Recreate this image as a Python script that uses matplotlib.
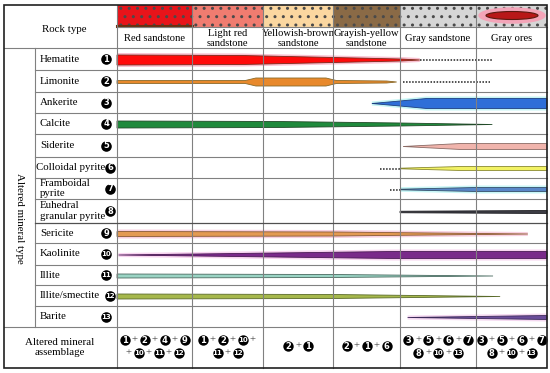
import numpy as np
import matplotlib.pyplot as plt
from matplotlib.patches import Rectangle, Ellipse, Polygon

plt.rcParams['font.family'] = ['Liberation Serif', 'DejaVu Serif']

# ---- data ----
rock_types = ['Red sandstone', 'Light red\nsandstone', 'Yellowish-brown\nsandstone',
              'Grayish-yellow\nsandstone', 'Gray sandstone', 'Gray ores']
rock_colors = ['#e8141a', '#f07c70', '#fbd7a0', '#8a6a46', '#d6d6d6', '#d6d6d6']

minerals = ['Hematite', 'Limonite', 'Ankerite', 'Calcite', 'Siderite', 'Colloidal pyrite',
            'Framboidal\npyrite', 'Euhedral\ngranular pyrite', 'Sericite', 'Kaolinite',
            'Illite', 'Illite/smectite', 'Barite']
mineral_colors = ['#ff0a0a', '#e8892c', '#2f6fd8', '#1f8a3c', '#f0b4ac', '#f2f264',
                  '#5a86c8', '#3c3c44', '#e39a52', '#7a2a8a', '#9ad4c4', '#a6b84c', '#6a4c9a']
edge_colors = ['#7a2a1a', '#8a6a2a', '#1d3f80', '#214a28', '#8a6a64', '#8a8a30',
               '#34506a', '#202024', '#8a5a34', '#4a1a54', '#4a6a60', '#5a6a2a', '#3c2a5a']
halo_colors = ['#f8c0d0', None, '#c4f4f4', None, None, None,
               '#c8f6f6', None, '#f8d0e0', '#f8d4f0', None, None, '#f4d8f0']

# spindle profiles: position on the rock-type axis (0..6, one unit per rock type), thickness
profile_pos = [
    [0, 1.7, 3.0, 4.0, 4.26],
    [0, 1.75, 1.9, 2.9, 3.05, 3.8, 3.95],
    [3.58, 4.0, 4.35, 6],
    [0, 2.2, 4.0, 5.23],
    [4.04, 4.8, 6],
    [4.0, 4.8, 6],
    [4.0, 5.0, 6],
    [4.0, 6],
    [0, 3.0, 5.73],
    [0.02, 3.9, 6],
    [0, 3.0, 5.24],
    [0, 3.0, 5.34],
    [4.1, 6],
]
profile_thk = [
    [10, 9, 5, 2, 0],
    [3, 3, 8, 8, 3, 2, 0],
    [0, 5, 10, 10],
    [7, 6, 3, 0],
    [0, 6, 6],
    [0.6, 4, 4],
    [0.6, 4, 4],
    [1.5, 3],
    [5, 4, 0],
    [0, 7, 7],
    [4, 3, 0],
    [5, 4, 0],
    [0, 4],
]
dotted = [(4.26, 5.24), (4.04, 5.2), None, None, None, (3.7, 4.0), (3.85, 4.0),
          None, None, None, None, None, None]

assemblage = [['1+2+4+9', '+10+11+12'], ['1+2+10+', '11+12'], ['2+1'], ['2+1+6'],
              ['3+5+6+7', '8+10+13'], ['3+5+6+7', '8+10+13']]

# ---- layout (pixels) ----
col_edges = [4, 35, 117, 192, 263, 333, 400, 476, 547]
row_edges = [5, 27, 48, 70, 92, 113, 134, 157, 178, 199, 223, 243, 265, 285, 306, 327, 368]
rock_x = col_edges[2:]

fig = plt.figure(figsize=(5.5, 3.73), dpi=100)
ax = fig.add_axes([0, 0, 1, 1])
ax.set_xlim(0, 550)
ax.set_ylim(373, 0)
ax.axis('off')

fs = 7.8
gray = '#808080'


def circ(x, y, n, size=58):
    ax.scatter([x], [y], s=size, color='black', zorder=6, linewidths=0)
    ax.text(x, y + 0.3, str(n), color='white', fontsize=6.0 if n < 10 else 5.0,
            fontweight='bold', family='DejaVu Sans', ha='center', va='center', zorder=7)


# header colour band
for i, c in enumerate(rock_colors):
    x0, x1 = rock_x[i], rock_x[i + 1]
    ax.add_patch(Rectangle((x0, row_edges[0]), x1 - x0, row_edges[1] - row_edges[0],
                           facecolor=c, edgecolor='#4a4a4a', hatch='..', lw=0, zorder=1))
    ax.text((x0 + x1) / 2, (row_edges[1] + row_edges[2]) / 2 + 1, rock_types[i],
            fontsize=7.6, ha='center', va='center', linespacing=1.2)
ax.plot([rock_x[0], rock_x[1]], [row_edges[1] - 1.2] * 2, color='#6a3010', lw=2.2, zorder=2)
ax.add_patch(Ellipse((512, 15.5), 66, 15, color='#f4a4b8', zorder=2))
ax.add_patch(Ellipse((512, 15.5), 52, 8, facecolor='#b81818', edgecolor='#5a1a10', lw=0.8, zorder=3))

ax.text(64, 29, 'Rock type', fontsize=fs, ha='center', va='center')
ax.text(19, 218, 'Altered mineral type', fontsize=fs, rotation=-90, ha='center', va='center')
ax.text(60, 347.5, 'Altered mineral\nassemblage', fontsize=fs, ha='center', va='center',
        linespacing=1.2)

# grid
for x in rock_x[:-1]:
    ax.plot([x, x], [row_edges[0], row_edges[-1]], color=gray, lw=0.8, zorder=4)
ax.plot([35, 35], [row_edges[2], row_edges[-2]], color=gray, lw=0.8, zorder=4)
ax.plot([rock_x[0], rock_x[-1]], [row_edges[1]] * 2, color=gray, lw=0.8, zorder=4)
for k, y in enumerate(row_edges[2:-1]):
    x0 = 4 if k in (0, len(row_edges) - 4) else 35
    c = '#505050' if y == 223 else gray
    ax.plot([x0, 547], [y, y], color=c, lw=0.9 if y == 223 else 0.8, zorder=4)
ax.add_patch(Rectangle((4, row_edges[0]), 543, row_edges[-1] - row_edges[0],
                       fill=False, edgecolor='#202020', lw=1.2, zorder=8))

# minerals
long_names = {5, 6, 7, 11}
for i, name in enumerate(minerals):
    y0, y1 = row_edges[2 + i], row_edges[3 + i]
    yc = (y0 + y1) / 2 + 1
    ax.text(40 if i != 5 else 36, (y0 + y1) / 2, name, fontsize=fs, ha='left', va='center',
            linespacing=1.2)
    circ(110 if i in long_names else 106, (y0 + y1) / 2, i + 1)

    xs = np.interp(profile_pos[i], range(7), rock_x)
    th = np.array(profile_thk[i], dtype=float)
    if halo_colors[i]:
        hth = th + 4
        hpts = list(zip(xs, yc - hth / 2)) + list(zip(xs[::-1], (yc + hth / 2)[::-1]))
        ax.add_patch(Polygon(hpts, closed=True, facecolor=halo_colors[i], lw=0, zorder=2))
    pts = list(zip(xs, yc - th / 2)) + list(zip(xs[::-1], (yc + th / 2)[::-1]))
    ax.add_patch(Polygon(pts, closed=True, facecolor=mineral_colors[i],
                         edgecolor=edge_colors[i], lw=0.6, zorder=3))
    if dotted[i]:
        dx = np.interp(dotted[i], range(7), rock_x)
        ax.plot(dx, [yc, yc], color='#202020', lw=1.1, ls=(0, (1, 1.0)), zorder=3)

# assemblage row
plus_w, circ_w = 9, 11
for i, lines in enumerate(assemblage):
    xc = (rock_x[i] + rock_x[i + 1]) / 2
    ys = [340, 353] if len(lines) == 2 else [346]
    for line, y in zip(lines, ys):
        toks = []
        num = ''
        for ch in line:
            if ch == '+':
                if num:
                    toks.append(int(num))
                    num = ''
                toks.append('+')
            else:
                num += ch
        if num:
            toks.append(int(num))
        widths = [plus_w if t == '+' else circ_w for t in toks]
        x = xc - sum(widths) / 2
        for t, w in zip(toks, widths):
            if t == '+':
                ax.text(x + w / 2, y, '+', fontsize=fs, ha='center', va='center', color='#333333')
            else:
                circ(x + w / 2, y, t, size=56)
            x += w

fig.savefig('out.png', dpi=100)
